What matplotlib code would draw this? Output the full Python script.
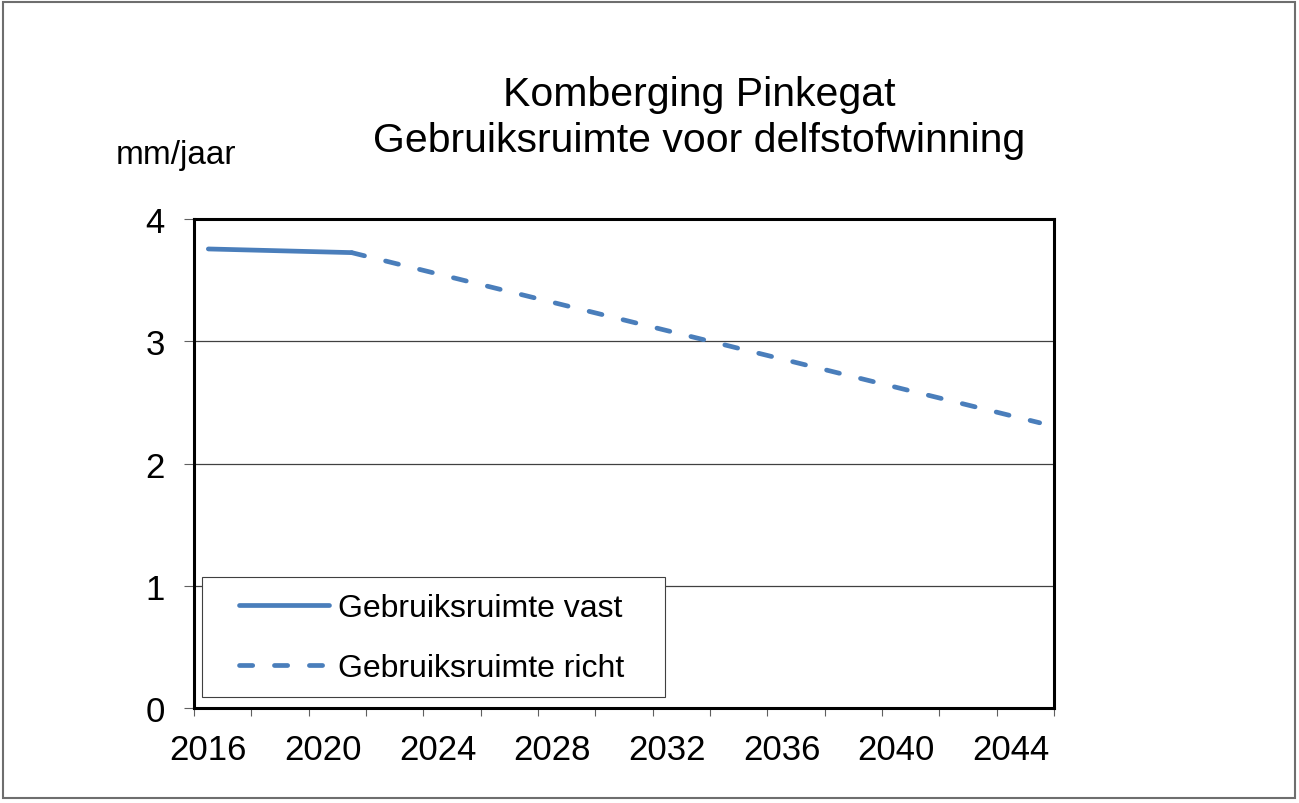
import numpy as np
import matplotlib
matplotlib.use("Agg")
import matplotlib.pyplot as plt
from matplotlib.lines import Line2D
from matplotlib.patches import Rectangle

plt.rcParams['font.family'] = ['Liberation Sans', 'DejaVu Sans']

# ---- data ----
years = list(range(2016, 2046))
vast_years = [2016, 2017, 2018, 2019, 2020, 2021]
vast_values = [3.755, 3.749, 3.743, 3.737, 3.731, 3.725]
richt_years = list(range(2021, 2046))
richt_values = [3.725, 3.667, 3.609, 3.551, 3.493, 3.435, 3.377, 3.319, 3.261,
                3.203, 3.145, 3.087, 3.029, 2.971, 2.913, 2.855, 2.797, 2.739,
                2.681, 2.623, 2.565, 2.507, 2.449, 2.391, 2.333]
tick_labels = ['2016', '2020', '2024', '2028', '2032', '2036', '2040', '2044']
y_ticks = [0, 1, 2, 3, 4]
title_lines = ['Komberging Pinkegat', 'Gebruiksruimte voor delfstofwinning']
y_unit = 'mm/jaar'
series_names = ['Gebruiksruimte vast', 'Gebruiksruimte richt']

W, H = 1299, 804
fig = plt.figure(figsize=(W / 100, H / 100), dpi=100)
fig.patch.set_facecolor('white')

L, R, T, B = 194, 1054, 220, 709
ax = fig.add_axes([L / W, 1 - B / H, (R - L) / W, (B - T) / H])

color = '#4A7EBB'
lw = 3.4
dash = (2.8, 4.6)
idx = {y: i for i, y in enumerate(years)}
vx = [idx[y] for y in vast_years]
rx = [idx[y] for y in richt_years]

ax.plot(vx, vast_values, color=color, lw=lw, solid_capstyle='round',
        solid_joinstyle='round', zorder=3)
ax.plot(rx, richt_values, color=color, lw=lw, dashes=dash,
        dash_capstyle='round', zorder=3)

ax.set_xlim(-0.5, len(years) - 0.5)
ax.set_ylim(0, 4)

# category boundaries every 2 years as tick marks
ax.set_xticks(np.arange(-0.5, len(years), 2))
ax.set_xticklabels([])
ax.set_xticks([idx[int(t)] for t in tick_labels], minor=True)
ax.set_xticklabels(tick_labels, minor=True)
ax.tick_params(axis='x', which='major', direction='out', length=6, width=0.8,
               color='#606060')
ax.tick_params(axis='x', which='minor', length=0, pad=18, labelsize=25)

ax.set_yticks(y_ticks)
ax.set_yticklabels([str(v) for v in y_ticks])
ax.tick_params(axis='y', direction='out', length=7.2, width=0.8,
               color='#606060', pad=14, labelsize=25)

ax.yaxis.grid(True, color='#404040', lw=0.9)
ax.set_axisbelow(True)
for s in ax.spines.values():
    s.set_linewidth(2.2)
    s.set_color('black')

# titles
fig.text(699 / W, 1 - 106 / H, title_lines[0], ha='center', va='baseline',
         fontsize=29.5)
fig.text(699 / W, 1 - 152 / H, title_lines[1], ha='center', va='baseline',
         fontsize=29.5)
fig.text(176 / W, 1 - 164 / H, y_unit, ha='center', va='baseline', fontsize=24)

# legend frame (white box above gridlines)
fig.add_artist(Rectangle((202 / W, 1 - 698 / H), (665 - 202) / W, (698 - 578) / H,
                         transform=fig.transFigure, facecolor='white',
                         edgecolor='#404040', lw=0.8, zorder=2))
handles = [Line2D([], [], color=color, lw=lw, solid_capstyle='round'),
           Line2D([], [], color=color, lw=lw, dashes=dash,
                  dash_capstyle='round')]
leg = fig.legend(handles, series_names, loc='upper left',
                 bbox_to_anchor=(239 / W, 1 - 594 / H),
                 bbox_transform=fig.transFigure, frameon=False, borderpad=0,
                 borderaxespad=0, handlelength=2.82, handletextpad=0.28,
                 labelspacing=0.95, fontsize=23)
leg.set_zorder(5)

# outer border
fig.add_artist(Rectangle((3 / W, 5 / H), 1292 / W, 796 / H,
                         transform=fig.transFigure, fill=False,
                         edgecolor='#6e6e6e', lw=1.5, zorder=6))

fig.savefig('out.png', dpi=100)
